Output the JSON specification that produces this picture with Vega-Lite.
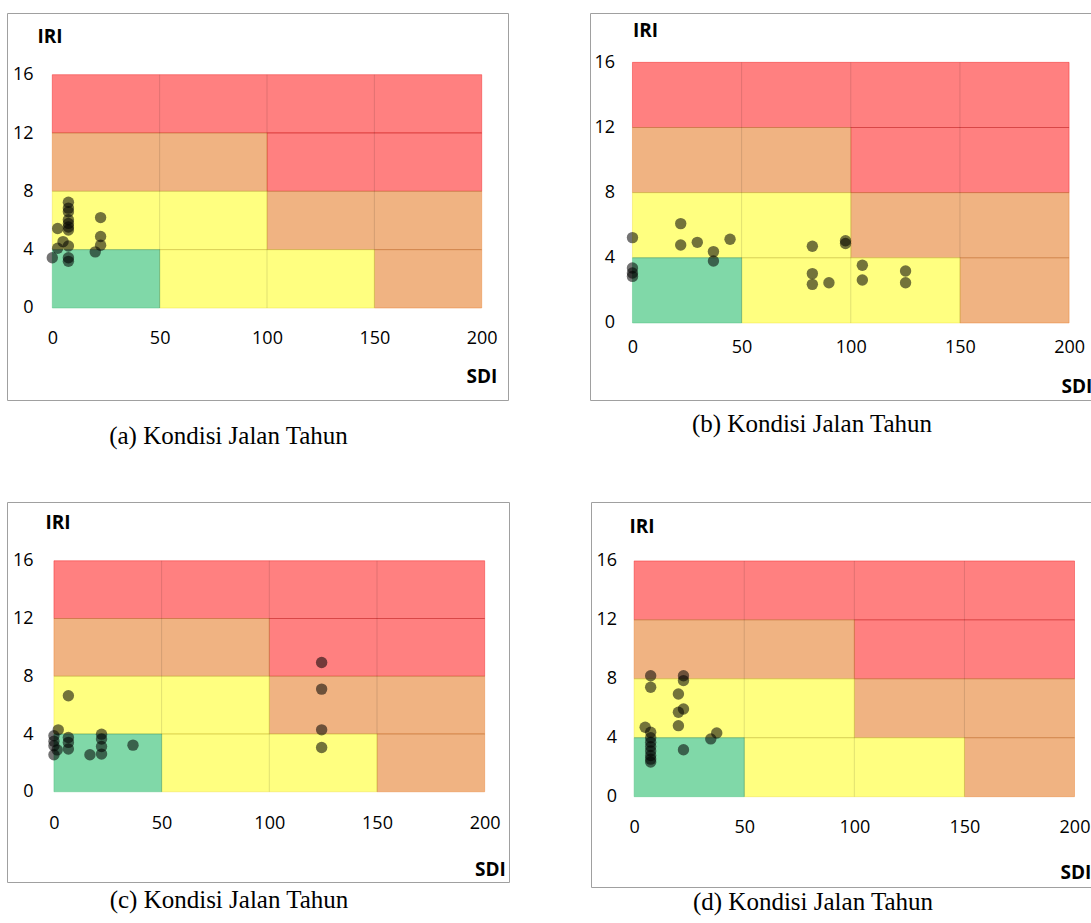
{
  "$schema": "https://vega.github.io/schema/vega-lite/v6.json",
  "background": "white",
  "padding": {"left": 6, "top": 12, "right": 0, "bottom": 0},
  "config": {
    "view": {"stroke": "#a0a0a0", "strokeWidth": 1},
    "axis": {"domain": false, "ticks": false, "tickSize": 0, "grid": false, "labelPadding": 0, "labelFont": "Open Sans", "labelFontSize": 18, "labelColor": "black", "titleFont": "Open Sans", "titleFontSize": 19, "titleFontWeight": "bold", "titleColor": "black", "titleAlign": "center", "titleBaseline": "middle", "titleAngle": 0, "labelFlush": false, "labelOverlap": false},
    "axisX": {"labelBaseline": "middle"},
    "title": {"font": "Liberation Serif", "fontSize": 25, "fontWeight": "normal", "color": "black", "anchor": "middle", "dx": -29, "orient": "bottom"},
    "rect": {"strokeWidth": 1, "strokeOpacity": 0.45}
  },
  "datasets": {
    "zones": [
      {"x1": 0, "x2": 200, "y1": 12, "y2": 16, "z": "red"},
      {"x1": 100, "x2": 200, "y1": 8, "y2": 12, "z": "red"},
      {"x1": 0, "x2": 100, "y1": 8, "y2": 12, "z": "orange"},
      {"x1": 100, "x2": 200, "y1": 4, "y2": 8, "z": "orange"},
      {"x1": 150, "x2": 200, "y1": 0, "y2": 4, "z": "orange"},
      {"x1": 0, "x2": 100, "y1": 4, "y2": 8, "z": "yellow"},
      {"x1": 50, "x2": 150, "y1": 0, "y2": 4, "z": "yellow"},
      {"x1": 0, "x2": 50, "y1": 0, "y2": 4, "z": "green"}
    ],
    "grid": [
      {"x1": 50, "x2": 50, "y1": 0, "y2": 16},
      {"x1": 100, "x2": 100, "y1": 0, "y2": 16},
      {"x1": 150, "x2": 150, "y1": 0, "y2": 16},
      {"x1": 0, "x2": 200, "y1": 4, "y2": 4},
      {"x1": 0, "x2": 200, "y1": 8, "y2": 8},
      {"x1": 0, "x2": 200, "y1": 12, "y2": 12}
    ],
    "pa": [
      {"SDI": 0, "IRI": 3.45}, {"SDI": 2.5, "IRI": 5.45}, {"SDI": 2.5, "IRI": 4.1}, {"SDI": 5, "IRI": 4.55},
      {"SDI": 7.5, "IRI": 7.25}, {"SDI": 7.5, "IRI": 6.85}, {"SDI": 7.5, "IRI": 6.6}, {"SDI": 7.5, "IRI": 6.05},
      {"SDI": 7.5, "IRI": 5.8}, {"SDI": 7.5, "IRI": 5.55}, {"SDI": 7.5, "IRI": 5.35}, {"SDI": 7.5, "IRI": 4.25},
      {"SDI": 7.5, "IRI": 3.45}, {"SDI": 7.5, "IRI": 3.2}, {"SDI": 20, "IRI": 3.85}, {"SDI": 22.5, "IRI": 6.2},
      {"SDI": 22.5, "IRI": 4.9}, {"SDI": 22.5, "IRI": 4.3}
    ],
    "pb": [
      {"SDI": 0, "IRI": 5.24}, {"SDI": 0, "IRI": 3.37}, {"SDI": 0, "IRI": 3.07}, {"SDI": 0, "IRI": 2.86},
      {"SDI": 22.1, "IRI": 6.1}, {"SDI": 22.1, "IRI": 4.79}, {"SDI": 29.7, "IRI": 4.95}, {"SDI": 37.1, "IRI": 4.38},
      {"SDI": 37.1, "IRI": 3.8}, {"SDI": 44.7, "IRI": 5.14}, {"SDI": 82.4, "IRI": 4.71}, {"SDI": 97.6, "IRI": 5.05},
      {"SDI": 97.6, "IRI": 4.88}, {"SDI": 82.4, "IRI": 3.03}, {"SDI": 82.4, "IRI": 2.37}, {"SDI": 90, "IRI": 2.47},
      {"SDI": 105.3, "IRI": 3.54}, {"SDI": 105.3, "IRI": 2.64}, {"SDI": 125.1, "IRI": 3.19}, {"SDI": 125.1, "IRI": 2.47}
    ],
    "pc": [
      {"SDI": 0, "IRI": 3.88}, {"SDI": 0, "IRI": 3.5}, {"SDI": 0, "IRI": 3.19}, {"SDI": 0, "IRI": 2.56},
      {"SDI": 2, "IRI": 4.29}, {"SDI": 1.5, "IRI": 2.9}, {"SDI": 6.7, "IRI": 6.65}, {"SDI": 6.7, "IRI": 3.76},
      {"SDI": 6.7, "IRI": 3.42}, {"SDI": 6.7, "IRI": 2.96}, {"SDI": 16.7, "IRI": 2.56}, {"SDI": 22.1, "IRI": 3.99},
      {"SDI": 22.1, "IRI": 3.65}, {"SDI": 22.1, "IRI": 3.14}, {"SDI": 22.1, "IRI": 2.61}, {"SDI": 36.7, "IRI": 3.23},
      {"SDI": 124.3, "IRI": 8.95}, {"SDI": 124.3, "IRI": 7.11}, {"SDI": 124.3, "IRI": 4.29}, {"SDI": 124.3, "IRI": 3.07}
    ],
    "pd": [
      {"SDI": 7.5, "IRI": 8.21}, {"SDI": 7.5, "IRI": 7.43}, {"SDI": 22.4, "IRI": 8.21}, {"SDI": 22.4, "IRI": 7.88},
      {"SDI": 20.1, "IRI": 6.97}, {"SDI": 20.1, "IRI": 5.73}, {"SDI": 22.4, "IRI": 5.95}, {"SDI": 20.1, "IRI": 4.82},
      {"SDI": 5, "IRI": 4.71}, {"SDI": 7.5, "IRI": 4.37}, {"SDI": 7.5, "IRI": 4.0}, {"SDI": 7.5, "IRI": 3.7},
      {"SDI": 7.5, "IRI": 3.4}, {"SDI": 7.5, "IRI": 3.1}, {"SDI": 7.5, "IRI": 2.8}, {"SDI": 7.5, "IRI": 2.55},
      {"SDI": 7.5, "IRI": 2.35}, {"SDI": 22.4, "IRI": 3.19}, {"SDI": 34.8, "IRI": 3.92}, {"SDI": 37.5, "IRI": 4.32}
    ]
  },
  "spacing": 51,
  "vconcat": [
    {
      "spacing": 80,
      "hconcat": [
        {
          "width": 501, "height": 387,
          "title": {"text": "(a) Kondisi Jalan Tahun", "offset": 24},
          "layer": [
            {"data": {"name": "zones"}, "mark": {"type": "rect"},
             "encoding": {
               "x": {"field": "x1", "type": "quantitative", "scale": {"domain": [-21.1, 212.25], "nice": false, "zero": false},
                     "axis": {"title": "SDI", "values": [0, 50, 100, 150, 200], "offset": -62, "titleX": 474.5, "titleY": 38.5}},
               "x2": {"field": "x2"},
               "y": {"field": "y1", "type": "quantitative", "scale": {"domain": [-6.31, 20.23], "nice": false, "zero": false},
                     "axis": {"title": "IRI", "values": [0, 4, 8, 12, 16], "offset": -26, "titleX": 16.5, "titleY": 23.5}},
               "y2": {"field": "y2"},
               "color": {"field": "z", "type": "nominal", "legend": null, "scale": {"domain": ["red", "orange", "yellow", "green"], "range": ["#FF8080", "#F0B382", "#FFFF80", "#80D8A8"]}},
               "stroke": {"field": "z", "type": "nominal", "legend": null, "scale": {"domain": ["red", "orange", "yellow", "green"], "range": ["#F02020", "#E88030", "#F0E040", "#50C080"]}}
             }},
            {"data": {"name": "grid"}, "mark": {"type": "rule", "color": "black", "opacity": 0.12, "strokeWidth": 1},
             "encoding": {"x": {"field": "x1", "type": "quantitative", "title": "SDI"}, "x2": {"field": "x2"}, "y": {"field": "y1", "type": "quantitative", "title": "IRI"}, "y2": {"field": "y2"}}},
            {"data": {"name": "pa"}, "mark": {"type": "circle", "color": "black", "opacity": 0.55, "size": 130},
             "encoding": {"x": {"field": "SDI", "type": "quantitative", "title": "SDI"}, "y": {"field": "IRI", "type": "quantitative", "title": "IRI"}}}
          ]
        },
        {
          "width": 502, "height": 387,
          "title": {"text": "(b) Kondisi Jalan Tahun", "offset": 12},
          "layer": [
            {"data": {"name": "zones"}, "mark": {"type": "rect"},
             "encoding": {
               "x": {"field": "x1", "type": "quantitative", "scale": {"domain": [-19.45, 210.5], "nice": false, "zero": false},
                     "axis": {"title": "SDI", "values": [0, 50, 100, 150, 200], "offset": -53, "titleX": 486.5, "titleY": 39.5}},
               "x2": {"field": "x2"},
               "y": {"field": "y1", "type": "quantitative", "scale": {"domain": [-4.73, 19.03], "nice": false, "zero": false},
                     "axis": {"title": "IRI", "values": [0, 4, 8, 12, 16], "offset": -24.5, "titleX": 30.5, "titleY": 17.5}},
               "y2": {"field": "y2"},
               "color": {"field": "z", "type": "nominal", "legend": null, "scale": {"domain": ["red", "orange", "yellow", "green"], "range": ["#FF8080", "#F0B382", "#FFFF80", "#80D8A8"]}},
               "stroke": {"field": "z", "type": "nominal", "legend": null, "scale": {"domain": ["red", "orange", "yellow", "green"], "range": ["#F02020", "#E88030", "#F0E040", "#50C080"]}}
             }},
            {"data": {"name": "grid"}, "mark": {"type": "rule", "color": "black", "opacity": 0.12, "strokeWidth": 1},
             "encoding": {"x": {"field": "x1", "type": "quantitative", "title": "SDI"}, "x2": {"field": "x2"}, "y": {"field": "y1", "type": "quantitative", "title": "IRI"}, "y2": {"field": "y2"}}},
            {"data": {"name": "pb"}, "mark": {"type": "circle", "color": "black", "opacity": 0.55, "size": 130},
             "encoding": {"x": {"field": "SDI", "type": "quantitative", "title": "SDI"}, "y": {"field": "IRI", "type": "quantitative", "title": "IRI"}}}
          ]
        }
      ]
    },
    {
      "spacing": 80,
      "hconcat": [
        {
          "width": 502, "height": 380,
          "title": {"text": "(c) Kondisi Jalan Tahun", "offset": 6},
          "layer": [
            {"data": {"name": "zones"}, "mark": {"type": "rect"},
             "encoding": {
               "x": {"field": "x1", "type": "quantitative", "scale": {"domain": [-21.8, 211.3], "nice": false, "zero": false},
                     "axis": {"title": "SDI", "values": [0, 50, 100, 150, 200], "offset": -59, "titleX": 483, "titleY": 46.5}},
               "x2": {"field": "x2"},
               "y": {"field": "y1", "type": "quantitative", "scale": {"domain": [-6.25, 20.07], "nice": false, "zero": false},
                     "axis": {"title": "IRI", "values": [0, 4, 8, 12, 16], "offset": -26, "titleX": 24.5, "titleY": 20.5}},
               "y2": {"field": "y2"},
               "color": {"field": "z", "type": "nominal", "legend": null, "scale": {"domain": ["red", "orange", "yellow", "green"], "range": ["#FF8080", "#F0B382", "#FFFF80", "#80D8A8"]}},
               "stroke": {"field": "z", "type": "nominal", "legend": null, "scale": {"domain": ["red", "orange", "yellow", "green"], "range": ["#F02020", "#E88030", "#F0E040", "#50C080"]}}
             }},
            {"data": {"name": "grid"}, "mark": {"type": "rule", "color": "black", "opacity": 0.12, "strokeWidth": 1},
             "encoding": {"x": {"field": "x1", "type": "quantitative", "title": "SDI"}, "x2": {"field": "x2"}, "y": {"field": "y1", "type": "quantitative", "title": "IRI"}, "y2": {"field": "y2"}}},
            {"data": {"name": "pc"}, "mark": {"type": "circle", "color": "black", "opacity": 0.55, "size": 130},
             "encoding": {"x": {"field": "SDI", "type": "quantitative", "title": "SDI"}, "y": {"field": "IRI", "type": "quantitative", "title": "IRI"}}}
          ]
        },
        {
          "width": 502, "height": 385,
          "title": {"text": "(d) Kondisi Jalan Tahun", "offset": 3},
          "layer": [
            {"data": {"name": "zones"}, "mark": {"type": "rect"},
             "encoding": {
               "x": {"field": "x1", "type": "quantitative", "scale": {"domain": [-19.6, 208.4], "nice": false, "zero": false},
                     "axis": {"title": "SDI", "values": [0, 50, 100, 150, 200], "offset": -60, "titleX": 484.5, "titleY": 45.5}},
               "x2": {"field": "x2"},
               "y": {"field": "y1", "type": "quantitative", "scale": {"domain": [-6.13, 20.0], "nice": false, "zero": false},
                     "axis": {"title": "IRI", "values": [0, 4, 8, 12, 16], "offset": -25.5, "titleX": 25, "titleY": 24.5}},
               "y2": {"field": "y2"},
               "color": {"field": "z", "type": "nominal", "legend": null, "scale": {"domain": ["red", "orange", "yellow", "green"], "range": ["#FF8080", "#F0B382", "#FFFF80", "#80D8A8"]}},
               "stroke": {"field": "z", "type": "nominal", "legend": null, "scale": {"domain": ["red", "orange", "yellow", "green"], "range": ["#F02020", "#E88030", "#F0E040", "#50C080"]}}
             }},
            {"data": {"name": "grid"}, "mark": {"type": "rule", "color": "black", "opacity": 0.12, "strokeWidth": 1},
             "encoding": {"x": {"field": "x1", "type": "quantitative", "title": "SDI"}, "x2": {"field": "x2"}, "y": {"field": "y1", "type": "quantitative", "title": "IRI"}, "y2": {"field": "y2"}}},
            {"data": {"name": "pd"}, "mark": {"type": "circle", "color": "black", "opacity": 0.55, "size": 130},
             "encoding": {"x": {"field": "SDI", "type": "quantitative", "title": "SDI"}, "y": {"field": "IRI", "type": "quantitative", "title": "IRI"}}}
          ]
        }
      ]
    }
  ]
}
